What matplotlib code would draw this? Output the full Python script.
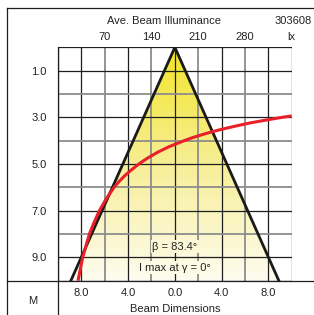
import numpy as np
import matplotlib
matplotlib.use("Agg")
import matplotlib.pyplot as plt
from matplotlib.lines import Line2D
from matplotlib.patches import Polygon

plt.rcParams['font.family'] = ['Liberation Sans', 'DejaVu Sans']

# ---- data ----
dist_ticks = [1, 3, 5, 7, 9]
dist_labels = ['1.0', '3.0', '5.0', '7.0', '9.0']
dim_ticks = [-8, -4, 0, 4, 8]
dim_labels = ['8.0', '4.0', '0.0', '4.0', '8.0']
lux_ticks = [70, 140, 210, 280, 350]
lux_labels = ['70', '140', '210', '280', 'lx']

beam_x = [-8.9, 0.0, 8.9]
beam_d = [10.0, 0.0, 10.0]

curve_d = [2.94, 3.0, 3.125, 3.25, 3.375, 3.5, 3.625, 3.75, 3.875, 4.0, 4.25, 4.5, 4.75,
           5.0, 5.25, 5.5, 5.75, 6.0, 6.5, 7.0, 7.5, 8.0, 8.5, 9.0, 9.5, 10.0]
curve_lux = [350, 336, 310, 286, 266, 247, 230, 215, 201, 189, 167, 149, 134,
             121, 110, 100, 91.5, 84, 72, 62, 54, 47, 42, 37, 33.5, 30]

title = 'Ave. Beam Illuminance'
code = '303608'
beta_txt = 'β = 83.4°'
imax_txt = 'I max at γ = 0°'

# ---- layout ----
W, H = 314, 315
fig = plt.figure(figsize=(W / 100, H / 100), dpi=100)
fig.patch.set_facecolor('white')

def fx(px):
    return px / W

def fy(py):
    return 1 - py / H

gl, gr, gt, gb = 58, 291.7, 47.3, 280.7
ax = fig.add_axes([fx(gl), fy(gb), (gr - gl) / W, (gb - gt) / H])
ax.set_xlim(-10, 10)
ax.set_ylim(10, 0)
for s in ax.spines.values():
    s.set_visible(False)
ax.set_facecolor('white')

txtc = '#222222'
fs = 8

# gradient fill in beam triangle
top_c = np.array([243, 229, 40]) / 255
mid_c = np.array([247, 238, 150]) / 255
bot_c = np.array([254, 252, 240]) / 255

def grad_color(d):
    tv = d / 10
    if tv < 0.5:
        return top_c + (mid_c - top_c) * (tv / 0.5)
    return mid_c + (bot_c - mid_c) * ((tv - 0.5) / 0.5)

cols = np.array([grad_color(d) for d in np.linspace(0, 10, 300)])[:, None, :]
im = ax.imshow(cols, extent=(-10, 10, 10, 0), aspect='auto', origin='upper', zorder=1,
               interpolation='bilinear')
poly = Polygon(list(zip(beam_x, beam_d)), closed=True, transform=ax.transData,
               facecolor='none', edgecolor='none')
ax.add_patch(poly)
im.set_clip_path(poly)

# grid
dark = '#1e1e1e'
gray = '#8c8c8c'
for xv in range(-10, 11, 2):
    if xv in dim_ticks or xv in (-10, 10):
        ax.axvline(xv, color=dark, lw=0.9, zorder=2)
    else:
        ax.axvline(xv, color=gray, lw=1.3, zorder=2)
for yv in range(0, 11):
    if yv in dist_ticks or yv in (0, 10):
        ax.axhline(yv, color=dark, lw=0.9, zorder=2)
    else:
        ax.axhline(yv, color=gray, lw=1.3, zorder=2)

# beam triangle outline
ax.plot(beam_x, beam_d, color='#1a1a1a', lw=2.0, zorder=3, solid_joinstyle='miter')

ax.set_xticks(dim_ticks, labels=dim_labels)
ax.set_yticks(dist_ticks, labels=dist_labels)
ax.tick_params(axis='both', length=0, labelsize=fs, labelcolor=txtc)
ax.tick_params(axis='x', pad=5)
ax.tick_params(axis='y', pad=8)

ax.text(0, 8.54, beta_txt, ha='center', va='center', fontsize=fs, color=txtc, zorder=5,
        bbox=dict(boxstyle='square,pad=0.15', fc=grad_color(8.54), ec='none'))
ax.text(0, 9.44, imax_txt, ha='center', va='center', fontsize=fs, color=txtc, zorder=5,
        bbox=dict(boxstyle='square,pad=0.15', fc=grad_color(9.44), ec='none'))

# illuminance axis
ax2 = ax.twiny()
ax2.set_xlim(0, 350)
ax2.set_ylim(10, 0)
for s in ax2.spines.values():
    s.set_visible(False)
ax2.patch.set_visible(False)
ax2.plot(curve_lux, curve_d, color='#e8202a', lw=2.2, zorder=4, solid_capstyle='butt',
         solid_joinstyle='round')
ax2.set_xticks(lux_ticks, labels=lux_labels)
ax2.tick_params(axis='x', length=0, labelsize=fs, labelcolor=txtc, pad=3.5)

# frame lines
def fline(x0, y0, x1, y1):
    fig.add_artist(Line2D([fx(x0), fx(x1)], [fy(y0), fy(y1)], color=dark, lw=0.9))

fline(7, 8, 7, 315)
fline(7, 8, 314, 8)
fline(7, gb, 314, gb)
fline(gl, gt, gl, 315)

fig.text(fx(164), fy(21.5), title, ha='center', va='center', fontsize=fs, color=txtc)
fig.text(fx(293), fy(21.5), code, ha='center', va='center', fontsize=fs, color=txtc)
fig.text(fx(33), fy(301.5), 'M', ha='center', va='center', fontsize=fs, color=txtc)
fig.text(fx(175), fy(308.5), 'Beam Dimensions', ha='center', va='center', fontsize=fs, color=txtc)

fig.savefig('out.png', dpi=100)
